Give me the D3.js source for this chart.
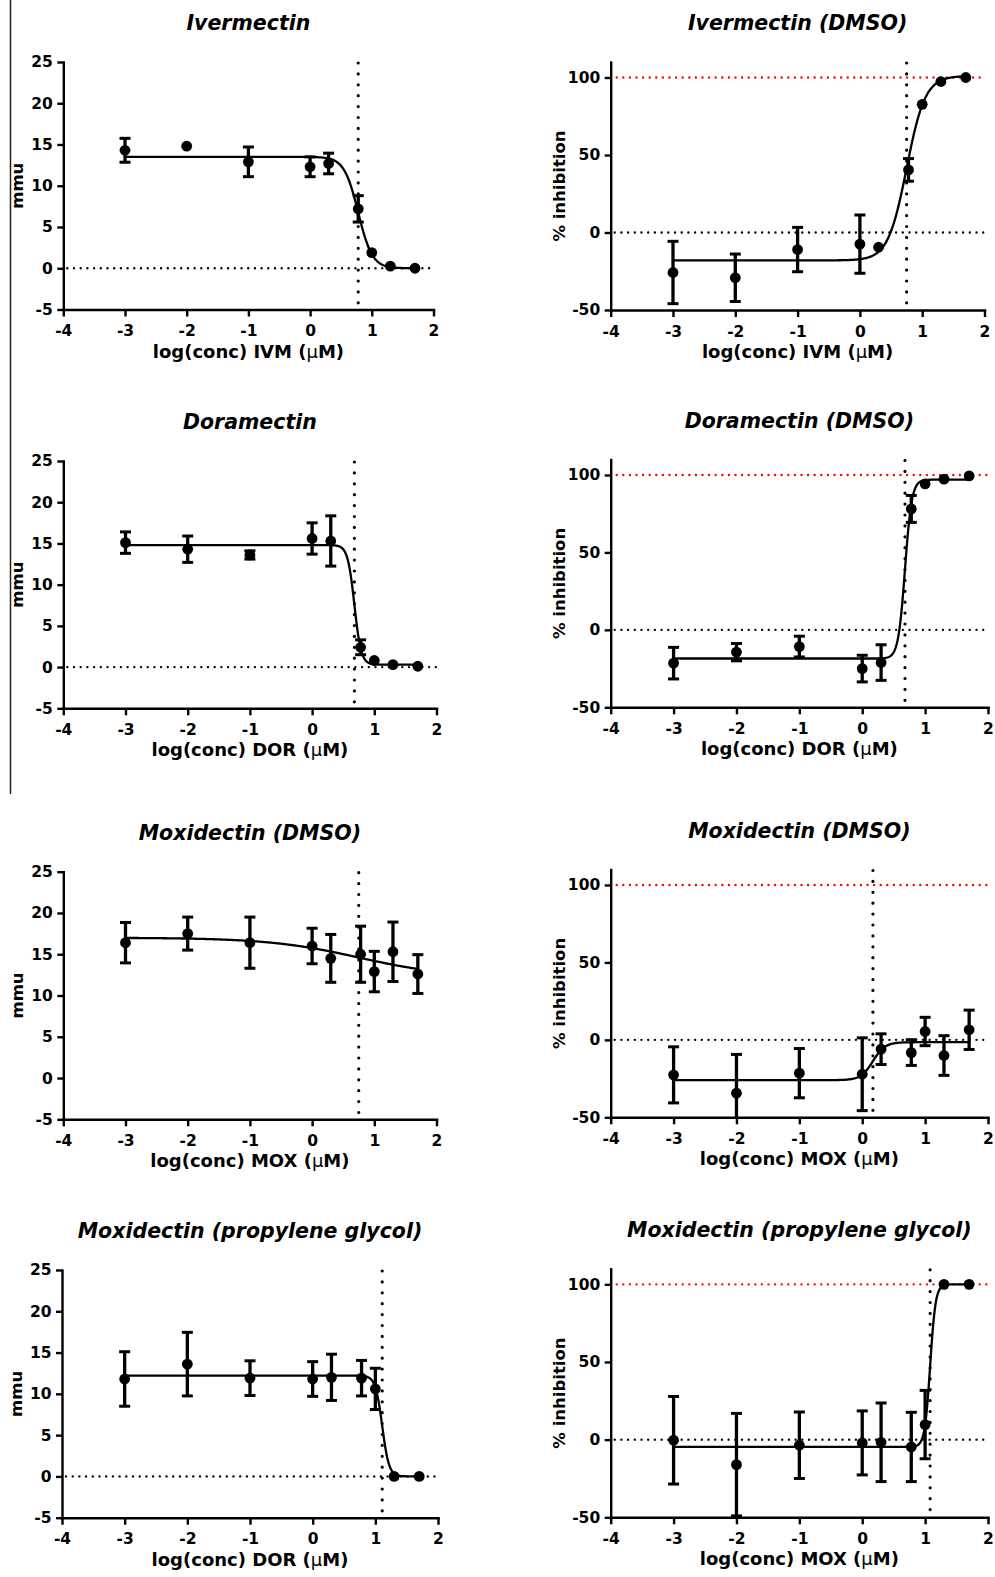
<!DOCTYPE html>
<html>
<head>
<meta charset="utf-8">
<script src="https://cdnjs.cloudflare.com/ajax/libs/d3/7.8.5/d3.min.js"></script>
<style>
body{margin:0;background:#fff;}
svg text{font-family:"DejaVu Sans",sans-serif;font-weight:bold;fill:#000;}
</style>
</head>
<body>
<svg id="fig"></svg>
<script>
//concentrations used in every panel (log uM)
var logConc = [-3,-2,-1,0,0.3,0.78,1,1.3,1.7];

//tick labels
var xTicks = [-4,-3,-2,-1,0,1,2];
var mmuTicks = [-5,0,5,10,15,20,25];
var inhTicks = [-50,0,50,100];

var titles = ["Ivermectin","Ivermectin (DMSO)","Doramectin","Doramectin (DMSO)",
    "Moxidectin (DMSO)","Moxidectin (DMSO)","Moxidectin (propylene glycol)","Moxidectin (propylene glycol)"];
var xLabels = ["log(conc) IVM (μM)","log(conc) IVM (μM)","log(conc) DOR (μM)","log(conc) DOR (μM)",
    "log(conc) MOX (μM)","log(conc) MOX (μM)","log(conc) DOR (μM)","log(conc) MOX (μM)"];

//means and error (half width, 0 = no bar shown)
var ivmMmu    = [14.3,14.8,12.9,12.3,12.7,7.2,1.9,0.25,0];
var ivmMmuErr = [1.45,0,1.8,1.2,1.25,1.6,0,0,0];
var ivmInh    = [-25.8,-29.2,-11,-7.5,-9.5,40.4,82.7,97.4,100];
var ivmInhErr = [20.1,15.3,14.3,18.8,0,7.3,0,0,0];

var dorMmu    = [15.1,14.3,13.6,15.6,15.3,2.4,0.8,0.3,0.1];
var dorMmuErr = [1.3,1.6,0.5,1.9,3.05,0.9,0,0,0];
var dorInh    = [-21.5,-14.4,-10.8,-25,-21.1,78.1,94.3,97.3,99.4];
var dorInhErr = [10.2,5.6,6.7,8.6,11.5,8.7,0,0,0];

var moxMmu    = [16.4,17.5,16.4,16.0,14.5,15.0,12.9,15.3,12.6];
var moxMmuErr = [2.45,2.0,3.1,2.15,2.9,3.4,2.45,3.6,2.35];
var moxInh    = [-22.6,-34.4,-21.5,-22.2,-6.0,-8.2,5.4,-10.1,6.5];
var moxInhErr = [18.1,25,15.9,23.5,9.9,8.3,9.15,12.8,12.7];

var moxPgMmu    = [11.8,13.6,11.9,11.8,12.0,11.9,10.6,0,0];
var moxPgMmuErr = [3.3,3.85,2.1,2.1,2.8,2.15,2.5,0,0];
var moxPgInh    = [-0.4,-16.1,-3.6,-2.1,-1.7,-4.7,9.7,100,100];
var moxPgInhErr = [28.2,33,21.4,20.6,25.3,22.3,22,0,0];

//dose response fit for each panel (bottom, top, logEC50, hill slope)
var fitBottom  = [0,-18,0.3,-18.5,12.2,-26,0,-4.6];
var fitTop     = [13.5,101,14.8,97,17,-1.5,12.2,100];
var fitLogEC50 = [0.78,0.75,0.68,0.68,0.75,0.17,1.11,1.08];
var fitHill    = [-3.8,2.9,-8,8,-0.6,4.5,-8,10];

//the moxidectin (DMSO) mmu panel has no zero line
var zeroLine = [true,true,true,true,false,true,true,true];

var means = [ivmMmu,ivmInh,dorMmu,dorInh,moxMmu,moxInh,moxPgMmu,moxPgInh];
var errs  = [ivmMmuErr,ivmInhErr,dorMmuErr,dorInhErr,moxMmuErr,moxInhErr,moxPgMmuErr,moxPgInhErr];

//where each panel's plot area sits on the page
var layout = [
    {x0:63.3,x1:433.5,top:62,bottom:309.5},
    {x0:610.7,x1:984.5,top:62,bottom:310},
    {x0:63.3,x1:436.5,top:461,bottom:708.3},
    {x0:610.7,x1:988,top:459.5,bottom:707.3},
    {x0:63.3,x1:436.5,top:871.7,bottom:1119.3},
    {x0:610.7,x1:988,top:869.5,bottom:1117.3},
    {x0:62,x1:438,top:1270,bottom:1517.7},
    {x0:610.7,x1:988,top:1268.8,bottom:1517.3}
];

var screen = {width:995,height:1577};

//4 parameter logistic
var doseResponse = function(i,x)
{
    return fitBottom[i] + (fitTop[i]-fitBottom[i])/(1+Math.pow(10,(fitLogEC50[i]-x)*fitHill[i]));
}

//writes a label where the mu is set in a lighter weight
var writeMu = function(sel,str)
{
    var parts = str.split("μ");
    sel.append("tspan").text(parts[0]);
    sel.append("tspan").style("font-weight","normal").text("μ");
    sel.append("tspan").text(parts[1]);
}

var drawPanel = function(svg,i)
{
    var box = layout[i];
    var isInh = (i%2==1);
    var xScale = d3.scaleLinear().domain([-4,2]).range([box.x0,box.x1]);
    var yScale = d3.scaleLinear()
        .domain(isInh ? [-50,110] : [-5,25])
        .range([box.bottom,box.top]);

    var g = svg.append("g").classed("panel",true);

    //title
    g.append("text")
        .attr("x",(box.x0+box.x1)/2)
        .attr("y",box.top-32)
        .attr("text-anchor","middle")
        .style("font-size","20.5px")
        .style("font-style","italic")
        .text(titles[i]);

    //reference lines
    if(zeroLine[i])
    {
        g.append("line")
            .attr("x1",box.x0+4).attr("x2",box.x1)
            .attr("y1",yScale(0)).attr("y2",yScale(0))
            .attr("stroke","#000").attr("stroke-width",2.4)
            .attr("stroke-linecap","round")
            .attr("stroke-dasharray","0,6.7");
    }
    if(isInh)
    {
        g.append("line")
            .attr("x1",box.x0+6).attr("x2",box.x1)
            .attr("y1",yScale(100)).attr("y2",yScale(100))
            .attr("stroke","#f00").attr("stroke-width",2.4)
            .attr("stroke-linecap","round")
            .attr("stroke-dasharray","0,6.6");
    }
    g.append("line")
        .attr("x1",xScale(fitLogEC50[i])).attr("x2",xScale(fitLogEC50[i]))
        .attr("y1",box.top+1).attr("y2",box.bottom)
        .attr("stroke","#000").attr("stroke-width",3.2)
        .attr("stroke-linecap","round")
        .attr("stroke-dasharray","0,10.9");

    //fitted curve
    var curveX = d3.range(-3,1.7001,0.01);
    var line = d3.line()
        .x(function(d){return xScale(d);})
        .y(function(d){return yScale(doseResponse(i,d));});
    g.append("path")
        .datum(curveX)
        .attr("d",line)
        .attr("fill","none")
        .attr("stroke","#000")
        .attr("stroke-width",2.3);

    //error bars
    var pts = logConc.map(function(c,k){return {x:c,y:means[i][k],e:errs[i][k]};});
    var yMin = yScale.domain()[0];
    var bars = g.selectAll(".bar")
        .data(pts.filter(function(p){return p.e>0;}))
        .enter().append("g").classed("bar",true);
    bars.append("line")
        .attr("x1",function(p){return xScale(p.x);})
        .attr("x2",function(p){return xScale(p.x);})
        .attr("y1",function(p){return yScale(p.y+p.e);})
        .attr("y2",function(p){return yScale(Math.max(yMin,p.y-p.e));})
        .attr("stroke","#000").attr("stroke-width",3.3);
    bars.append("line")
        .attr("x1",function(p){return xScale(p.x)-5.5;})
        .attr("x2",function(p){return xScale(p.x)+5.5;})
        .attr("y1",function(p){return yScale(p.y+p.e);})
        .attr("y2",function(p){return yScale(p.y+p.e);})
        .attr("stroke","#000").attr("stroke-width",3);
    bars.filter(function(p){return p.y-p.e>yMin;})
        .append("line")
        .attr("x1",function(p){return xScale(p.x)-5.5;})
        .attr("x2",function(p){return xScale(p.x)+5.5;})
        .attr("y1",function(p){return yScale(p.y-p.e);})
        .attr("y2",function(p){return yScale(p.y-p.e);})
        .attr("stroke","#000").attr("stroke-width",3);

    //points
    g.selectAll("circle")
        .data(pts)
        .enter().append("circle")
        .attr("cx",function(p){return xScale(p.x);})
        .attr("cy",function(p){return yScale(p.y);})
        .attr("r",5.4)
        .attr("fill","#000");

    //axes
    var xAxis = d3.axisBottom(xScale)
        .tickValues(xTicks)
        .tickSizeInner(7).tickSizeOuter(0).tickPadding(8.5)
        .tickFormat(function(d){return String(d);});
    var yAxis = d3.axisLeft(yScale)
        .tickValues(isInh ? inhTicks : mmuTicks)
        .tickSizeInner(6).tickSizeOuter(0).tickPadding(4.5)
        .tickFormat(function(d){return String(d);});

    var ax = g.append("g")
        .attr("transform","translate(0,"+box.bottom+")")
        .call(xAxis);
    var ay = g.append("g")
        .attr("transform","translate("+box.x0+",0)")
        .call(yAxis);
    [ax,ay].forEach(function(a)
    {
        a.attr("font-family",null).attr("font-size",null);
        a.selectAll("text").style("font-size","15.5px").attr("fill","#000");
        a.selectAll("line").attr("stroke","#000").attr("stroke-width",2.4);
        a.select(".domain").attr("stroke","#000").attr("stroke-width",2.4)
            .attr("stroke-linecap","square");
    });

    //axis titles
    var xl = g.append("text")
        .attr("x",(box.x0+box.x1)/2)
        .attr("y",box.bottom+48)
        .attr("text-anchor","middle")
        .style("font-size","18px");
    writeMu(xl,xLabels[i]);

    var lx = isInh ? box.x0-45.5 : box.x0-40.5;
    g.append("text")
        .attr("transform","translate("+lx+","+((box.top+box.bottom)/2)+") rotate(-90)")
        .attr("text-anchor","middle")
        .style("font-size","16.5px")
        .text(isInh ? "% inhibition" : "mmu");
}

var svg = d3.select("#fig")
    .attr("width",screen.width)
    .attr("height",screen.height);

//thin rule down the left side of the first two rows
svg.append("line")
    .attr("x1",10.5).attr("x2",10.5)
    .attr("y1",0).attr("y2",794)
    .attr("stroke","#222").attr("stroke-width",1.5);

for(var i=0;i<8;i++)
{
    drawPanel(svg,i);
}
</script>
</body>
</html>
